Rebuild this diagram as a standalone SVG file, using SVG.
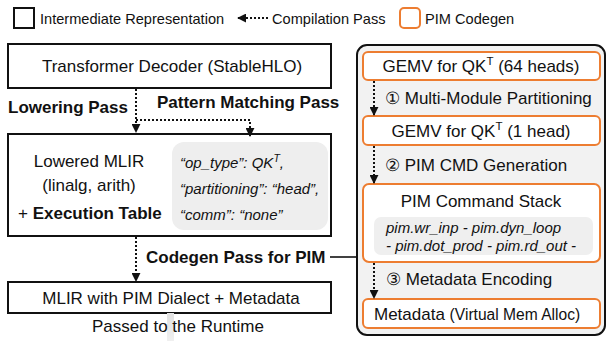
<svg xmlns="http://www.w3.org/2000/svg" width="608" height="341" viewBox="0 0 608 341">
  <style>
    text { font-family: "Liberation Sans", Arial, sans-serif; fill: #111; }
    .leg { font-size: 14.6px; }
    .t17 { font-size: 17px; }
    .b { font-size: 17px; font-weight: bold; }
    .it { font-size: 15px; font-style: italic; }
    .ir { fill: #fff; stroke: #111; stroke-width: 2; }
    .pim { fill: #fff; stroke: #ED7D31; stroke-width: 2; }
    .conn { fill: none; stroke: #111; stroke-width: 2; stroke-dasharray: 2 2; }
    .solid { fill: none; stroke: #111; stroke-width: 1.6; }
  </style>
  <defs>
    <marker id="arr" viewBox="0 0 10 10" refX="9" refY="5" markerWidth="4.5" markerHeight="4.5" orient="auto" markerUnits="strokeWidth">
      <path d="M0,0 L10,5 L0,10 z" fill="#111"/>
    </marker>
    <linearGradient id="fade" x1="0" y1="0" x2="0" y2="1">
      <stop offset="0" stop-color="#e2e2e2"/>
      <stop offset="1" stop-color="#f0f0f0"/>
    </linearGradient>
  </defs>

  <!-- legend -->
  <g id="legend">
    <rect x="14" y="8" width="20" height="20" class="ir"/>
    <text x="40" y="24" class="leg">Intermediate Representation</text>
    <line x1="268" y1="18" x2="238" y2="18" class="conn" stroke-width="1.6" marker-end="url(#arr)"/>
    <text x="272" y="24" class="leg">Compilation Pass</text>
    <rect x="400" y="8" width="20" height="20" rx="4" class="pim"/>
    <text x="425" y="24" class="leg">PIM Codegen</text>
  </g>

  <!-- right-hand PIM codegen panel -->
  <g id="pim-panel">
    <rect x="357" y="45" width="248" height="290" rx="10" fill="#f2f2f2" stroke="#111" stroke-width="2"/>
  </g>

  <g id="gemv-64">
    <rect x="363" y="52" width="237" height="28" rx="5" class="pim"/>
    <text x="481" y="72" class="t17" text-anchor="middle">GEMV for QK<tspan font-size="11.5" dy="-7">T</tspan><tspan dy="7"> (64 heads)</tspan></text>
  </g>
  <g id="gemv-1">
    <rect x="363" y="116" width="237" height="29" rx="5" class="pim"/>
    <text x="481" y="137" class="t17" text-anchor="middle">GEMV for QK<tspan font-size="11.5" dy="-7">T</tspan><tspan dy="7"> (1 head)</tspan></text>
  </g>
  <g id="cmd-stack">
    <rect x="363" y="184" width="237" height="78" rx="6" class="pim"/>
    <text x="481" y="207" class="t17" text-anchor="middle">PIM Command Stack</text>
    <rect x="374" y="217" width="219" height="38" rx="7" fill="#efefef"/>
    <text x="386" y="233" class="it">pim.wr_inp - pim.dyn_loop</text>
    <text x="386" y="251" class="it">- pim.dot_prod - pim.rd_out -</text>
  </g>
  <g id="metadata">
    <rect x="363" y="299" width="237" height="29" rx="5" class="pim"/>
    <text x="374" y="320" class="t17">Metadata <tspan font-size="15.6">(Virtual Mem Alloc)</tspan></text>
  </g>

  <!-- left-hand IR flow -->
  <g id="decoder">
    <rect x="8" y="44" width="323" height="44" class="ir"/>
    <text x="172" y="72" class="t17" text-anchor="middle">Transformer Decoder (StableHLO)</text>
  </g>
  <g id="lowered">
    <rect x="8" y="134" width="323" height="102" class="ir"/>
    <text x="89" y="167" class="t17" text-anchor="middle">Lowered MLIR</text>
    <text x="89" y="191" class="t17" text-anchor="middle">(linalg, arith)</text>
    <text x="18" y="219" class="t17">+ <tspan font-weight="bold">Execution Table</tspan></text>
    <rect x="172" y="142" width="156" height="88" rx="12" fill="#eeeeee"/>
    <text x="180" y="168" class="it">“op_type”: QK<tspan font-size="10.5" dy="-6">T</tspan><tspan dy="6">,</tspan></text>
    <text x="180" y="194" class="it">“partitioning”: “head”,</text>
    <text x="180" y="220" class="it">“comm”: “none”</text>
  </g>
  <g id="pim-dialect">
    <rect x="8" y="282" width="323" height="31" class="ir"/>
    <text x="171" y="304" class="t17" text-anchor="middle">MLIR with PIM Dialect + Metadata</text>
  </g>
  <g id="runtime-note">
    <rect x="167" y="313" width="7" height="28" fill="url(#fade)"/>
    <text x="178" y="332" class="t17" text-anchor="middle">Passed to the Runtime</text>
  </g>

  <!-- connectors -->
  <g id="connectors">
    <path d="M136,89 V132" class="conn" marker-end="url(#arr)"/>
    <path d="M136,120 H250 V136" class="conn" marker-end="url(#arr)"/>
    <path d="M136,237 V281" class="conn" marker-end="url(#arr)"/>
    <path d="M330,257 H357" class="solid"/>
    <path d="M374,81 V115" class="conn" marker-end="url(#arr)"/>
    <path d="M374,146 V183" class="conn" marker-end="url(#arr)"/>
    <path d="M374,263 V298" class="conn" marker-end="url(#arr)"/>
  </g>

  <!-- pass labels -->
  <g id="labels">
    <text x="8" y="113" class="b">Lowering Pass</text>
    <text x="157" y="108" class="b">Pattern Matching Pass</text>
    <text x="146" y="263" class="b">Codegen Pass for PIM</text>
    <text x="385" y="104" class="t17">① Multi-Module Partitioning</text>
    <text x="385" y="171" class="t17">② PIM CMD Generation</text>
    <text x="386" y="285" class="t17">③ Metadata Encoding</text>
  </g>
</svg>
